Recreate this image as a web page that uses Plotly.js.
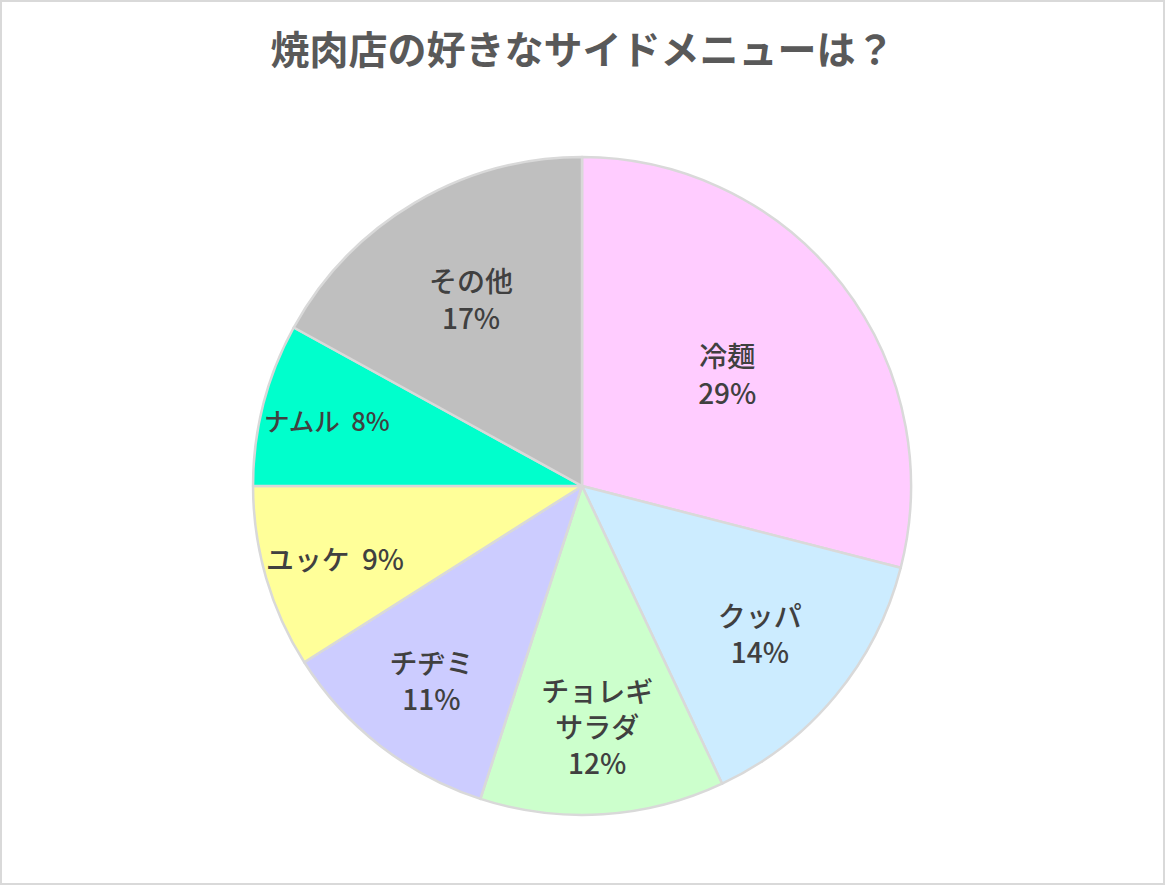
<!DOCTYPE html>
<html>
<head>
<meta charset="utf-8">
<script src="https://cdn.plot.ly/plotly-3.0.1.min.js"></script>
<style>
  body { margin: 0; background: #ffffff; }
  #chart { width: 1165px; height: 885px; }
</style>
</head>
<body>
<div id="chart"></div>
<script>
// side menu survey (percent)
const menuLabels = ['冷麺', 'クッパ', 'チョレギサラダ', 'チヂミ', 'ユッケ', 'ナムル', 'その他'];
const menuValues = [29, 14, 12, 11, 9, 8, 17];
const labelText = ['冷麺', 'クッパ', 'チョレギ<br>サラダ', 'チヂミ', 'ユッケ', 'ナムル', 'その他'];
const sliceColors = ['#FFCCFF', '#CCECFF', '#CCFFCC', '#CCCCFF', '#FFFF99', '#00FFCC', '#BFBFBF'];

// small slices put the percent on the same line
const templates = menuValues.map(function (v) {
    return v < 10 ? '%{text}  %{percent:.0%}' : '%{text}<br>%{percent:.0%}';
});

const data = [
    {
        type: 'pie',
        labels: menuLabels,
        values: menuValues,
        text: labelText,
        texttemplate: templates,
        textinfo: 'text',
        textposition: 'inside',
        insidetextorientation: 'horizontal',
        sort: false,
        direction: 'clockwise',
        rotation: 0,
        marker: {
            colors: sliceColors,
            line: { color: '#D9D9D9', width: 2.5 }
        },
        insidetextfont: {
            family: '"Noto Sans CJK JP", sans-serif',
            size: 28,
            color: '#404040',
            weight: 500
        },
        hoverinfo: 'label+percent',
        domain: {
            x: [0.2172, 0.7820],
            y: [0.0791, 0.8226]
        }
    }
];

const layout = {
    width: 1165,
    height: 885,
    margin: { t: 0, r: 0, b: 0, l: 0 },
    paper_bgcolor: '#ffffff',
    showlegend: false,
    title: {
        text: '焼肉店の好きなサイドメニューは？',
        font: {
            family: '"Noto Sans CJK JP", sans-serif',
            size: 39,
            color: '#595959',
            weight: 'bold'
        },
        x: 0.5,
        xanchor: 'center',
        y: 0.9435,
        yanchor: 'middle',
        yref: 'container'
    },
    shapes: [
        {
            type: 'rect',
            xref: 'paper',
            yref: 'paper',
            x0: 0, x1: 1, y0: 0, y1: 1,
            line: { color: '#D9D9D9', width: 4 }
        }
    ]
};

const config = {
    responsive: false,
    displayModeBar: false,
    staticPlot: true
};

Plotly.newPlot('chart', data, layout, config);
</script>
</body>
</html>
